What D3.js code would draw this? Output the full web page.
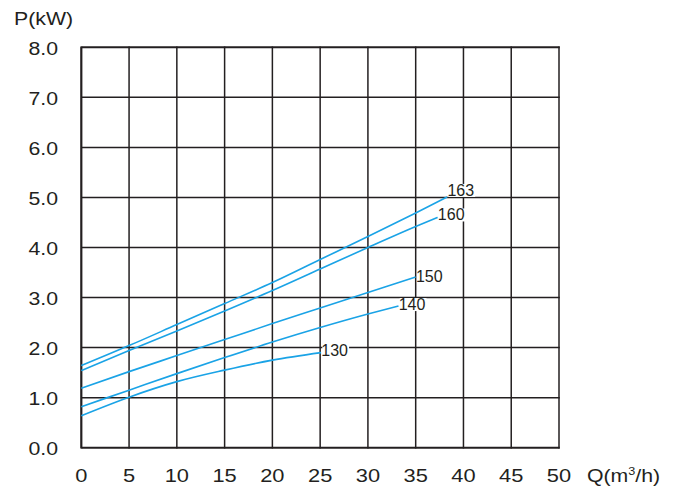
<!DOCTYPE html>
<html>
<head>
<meta charset="utf-8">
<script src="https://cdn.jsdelivr.net/npm/d3@7"></script>
<style>
  html, body { margin: 0; padding: 0; background: #fff; }
  svg { display: block; }
  text { font-family: "Liberation Sans", Arial, Helvetica, sans-serif; fill: #231f20; }
</style>
</head>
<body>
<svg id="chart" width="677" height="494"></svg>
<script>
// ---- data ----
const xTicks = [0, 5, 10, 15, 20, 25, 30, 35, 40, 45, 50];
const yTicks = [0, 1, 2, 3, 4, 5, 6, 7, 8];
const curveNames = ["163", "160", "150", "140", "130"];
const q163 = [0, 5, 10, 15, 20, 25, 30, 35, 38.3];
const p163 = [1.64, 2.04, 2.46, 2.88, 3.30, 3.76, 4.22, 4.69, 5.01];
const q160 = [0, 5, 10, 15, 20, 25, 30, 35, 37.3];
const p160 = [1.54, 1.94, 2.33, 2.73, 3.14, 3.57, 4.00, 4.42, 4.60];
const q150 = [0, 5, 10, 15, 20, 25, 30, 35];
const p150 = [1.19, 1.52, 1.84, 2.16, 2.48, 2.79, 3.10, 3.41];
const q140 = [0, 5, 10, 15, 20, 25, 30, 33.2];
const p140 = [0.82, 1.15, 1.48, 1.80, 2.11, 2.40, 2.67, 2.83];
const q130 = [0, 5, 10, 15, 20, 25.1];
const p130 = [0.64, 1.01, 1.32, 1.55, 1.75, 1.90];

const series = [
  { name: curveNames[0], q: q163, p: p163 },
  { name: curveNames[1], q: q160, p: p160 },
  { name: curveNames[2], q: q150, p: p150 },
  { name: curveNames[3], q: q140, p: p140 },
  { name: curveNames[4], q: q130, p: p130 }
];

// ---- layout ----
const svg = d3.select("#chart");
const x = d3.scaleLinear().domain([0, 50]).range([81.3, 559]);
const y = d3.scaleLinear().domain([0, 8]).range([447.7, 47.3]);
const gridColor = "#231f20";
const lineColor = "#1aa3e6";
const stretch = 1.15;

// grid
const grid = svg.append("g");
grid.selectAll("line.v").data(xTicks).join("line")
  .attr("x1", d => x(d)).attr("x2", d => x(d))
  .attr("y1", y(8) - 0.8).attr("y2", y(0) + 0.8)
  .attr("stroke", gridColor)
  .attr("stroke-width", d => d === 0 ? 2.2 : 1.5);
grid.selectAll("line.h").data(yTicks).join("line")
  .attr("x1", x(0)).attr("x2", x(50) + 0.7)
  .attr("y1", d => y(d)).attr("y2", d => y(d))
  .attr("stroke", gridColor)
  .attr("stroke-width", d => (d === 0 || d === 8) ? 1.9 : 1.5);

// axis tick labels
const fmt = d3.format(".1f");
svg.append("g").selectAll("g").data(yTicks).join("g")
  .attr("transform", d => `translate(58,${y(d) + 7.3}) scale(${stretch},1)`)
  .append("text")
  .attr("text-anchor", "end")
  .attr("font-size", 18.5)
  .text(d => fmt(d));

svg.append("g").selectAll("g").data(xTicks).join("g")
  .attr("transform", d => `translate(${x(d)},482.3) scale(${stretch},1)`)
  .append("text")
  .attr("text-anchor", "middle")
  .attr("font-size", 19)
  .text(d => d);

// axis titles
svg.append("g").attr("transform", `translate(14,25) scale(${stretch},1)`)
  .append("text").attr("font-size", 18.5).text("P(kW)");

const qt = svg.append("g").attr("transform", `translate(587,482) scale(${stretch},1)`)
  .append("text").attr("font-size", 18.5);
qt.append("tspan").text("Q(m");
qt.append("tspan").attr("font-size", 11).attr("dy", -7).text("3");
qt.append("tspan").attr("dy", 7).text("/h)");

// curves
const line = d3.line().x(d => x(d[0])).y(d => y(d[1])).curve(d3.curveMonotoneX);
const curves = svg.append("g");
series.forEach(s => {
  const pts = s.q.map((q, i) => [q, s.p[i]]);
  curves.append("path")
    .attr("d", line(pts))
    .attr("fill", "none")
    .attr("stroke", lineColor)
    .attr("stroke-width", 1.6);
});

// curve labels with white backing
const labelDy = { "163": -1, "160": 3, "150": 5, "140": 4, "130": 3.5 };
const labels = svg.append("g");
series.forEach(s => {
  const n = s.q.length - 1;
  const lx = x(s.q[n]) + 0.2;
  const ly = y(s.p[n]) + labelDy[s.name];
  const g = labels.append("g");
  const t = g.append("text")
    .attr("x", lx).attr("y", ly)
    .attr("font-size", 16)
    .text(s.name);
  const bb = t.node().getBBox();
  g.insert("rect", "text")
    .attr("x", bb.x + 1).attr("y", bb.y + 2)
    .attr("width", bb.width).attr("height", bb.height - 4)
    .attr("fill", "#fff");
});
</script>
</body>
</html>
